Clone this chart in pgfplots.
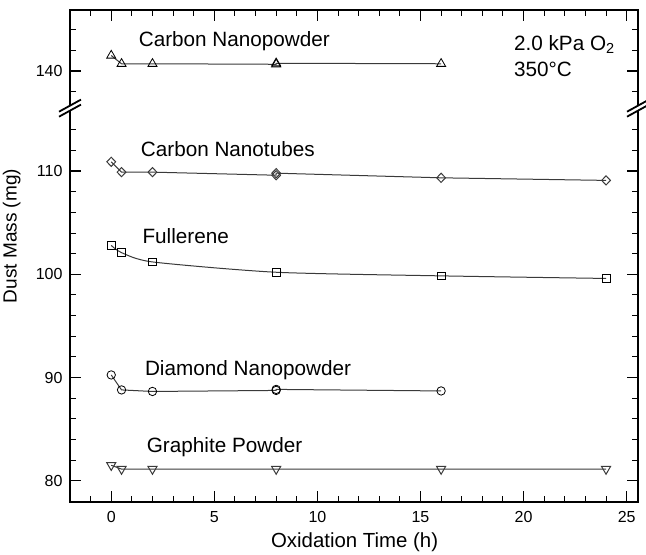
\documentclass[border=0pt]{standalone}
\usepackage{fontspec}
\setmainfont{Liberation Sans}
\usepackage{pgfplots}
\pgfplotsset{compat=1.18}
\definecolor{linegray}{HTML}{3A3A3A}
\newcommand{\annot}{\fontsize{20.7bp}{24bp}\selectfont}
\newcommand{\xlabelfont}{\fontsize{20.4bp}{23bp}\selectfont}
\newcommand{\ylabelfont}{\fontsize{19bp}{22bp}\selectfont}

\begin{document}
\begin{tikzpicture}
\useasboundingbox (-70bp,-53bp) rectangle (576bp,502bp);
\begin{axis}[
    at={(0,0)}, anchor=south west,
    scale only axis, width=568bp, height=492bp,
    xmin=-2, xmax=25.55, ymin=77.94, ymax=125.61,
    xtick={0,5,...,25},
    minor xtick={-1,1,2,3,4,6,7,8,9,11,12,13,14,16,17,18,19,21,22,23,24},
    ytick={80,90,100,110,119.7}, yticklabels={80,90,100,110,140},
    minor ytick={82,84,86,88,92,94,96,98,102,104,106,108,112,114,117.7,121.7,123.7},
    tick align=inside,
    major tick length=11bp, minor tick length=6bp,
    major tick style={black, line width=1.4bp},
    minor tick style={black, line width=1bp},
    axis line style={line width=1.8bp},
    tick label style={font=\fontsize{16bp}{18bp}\selectfont},
    /pgf/number format/assume math mode=true,
    xticklabel style={yshift=-6bp},
    yticklabel style={xshift=-4bp},
    clip=false,
    every axis plot/.append style={linegray, line width=1bp},
    mark options={black, fill=white, line width=0.8bp, solid},
  ]
  % Carbon nanopowder (upper, broken part of the axis)
  \addplot[mark=triangle, mark size=5.2bp, y filter/.expression={y-20.3}] coordinates {
    (0,141.5) (0.5,140.7) (2,140.7) (8,140.65) (8,140.75) (16,140.7)
  };
  % Carbon nanotubes
  \addplot[mark=diamond, mark size=4.6bp, mark options={xscale=1.27}] coordinates {
    (0,110.9) (0.5,109.9) (2,109.9) (8,109.6) (8,109.8) (16,109.35) (24,109.1)
  };
  % Fullerene
  \addplot[mark=square, mark size=3.9bp, smooth, tension=0.4] coordinates {
    (0,102.8) (0.5,102.1) (2,101.2) (8,100.2) (16,99.85) (24,99.6)
  };
  % Diamond nanopowder
  \addplot[mark=o, mark size=4.2bp] coordinates {
    (0,90.25) (0.5,88.8) (2,88.65) (8,88.75) (8,88.85) (16,88.7)
  };
  % Graphite powder
  \addplot[mark=triangle, mark size=5.2bp, mark options={rotate=180}] coordinates {
    (0,81.5) (0.5,81.13) (2,81.13) (8,81.13) (16,81.13) (24,81.13)
  };

  \node[anchor=base west, font=\annot, inner sep=0pt] at (axis cs:1.33,122.05) {Carbon Nanopowder};
  \node[anchor=base west, font=\annot, inner sep=0pt] at (axis cs:1.43,111.37) {Carbon Nanotubes};
  \node[anchor=base west, font=\annot, inner sep=0pt] at (axis cs:1.51,103.03) {Fullerene};
  \node[anchor=base west, font=\annot, inner sep=0pt] at (axis cs:1.63,90.24) {Diamond Nanopowder};
  \node[anchor=base west, font=\annot, inner sep=0pt] at (axis cs:1.72,82.78) {Graphite Powder};
  \node[anchor=base west, font=\annot, inner sep=0pt] at (axis cs:19.53,121.73) {2.0 kPa O\textsubscript{2}};
  \node[anchor=base west, font=\annot, inner sep=0pt] at (axis cs:19.53,119.12) {350°C};

  \node[rotate=90, font=\ylabelfont] at (axis description cs:-0.1026,0.5407) {Dust Mass (mg)};
  \node[font=\xlabelfont] at (axis description cs:0.501,-0.0813) {Oxidation Time (h)};

  \coordinate (bl) at (rel axis cs:0,0.8005);
  \coordinate (br) at (rel axis cs:1,0.8005);
\end{axis}
% axis break marks
\foreach \c in {bl,br} {
  \begin{scope}[shift={(\c)}]
    \fill[white] (-3bp,-4.15bp) -- (3bp,-0.85bp) -- (3bp,4.15bp) -- (-3bp,0.85bp) -- cycle;
    \draw[line width=1.8bp] (-11bp,-8.55bp) -- (11bp,3.55bp);
    \draw[line width=1.8bp] (-11bp,-3.55bp) -- (11bp,8.55bp);
  \end{scope}
}
\end{tikzpicture}
\end{document}
